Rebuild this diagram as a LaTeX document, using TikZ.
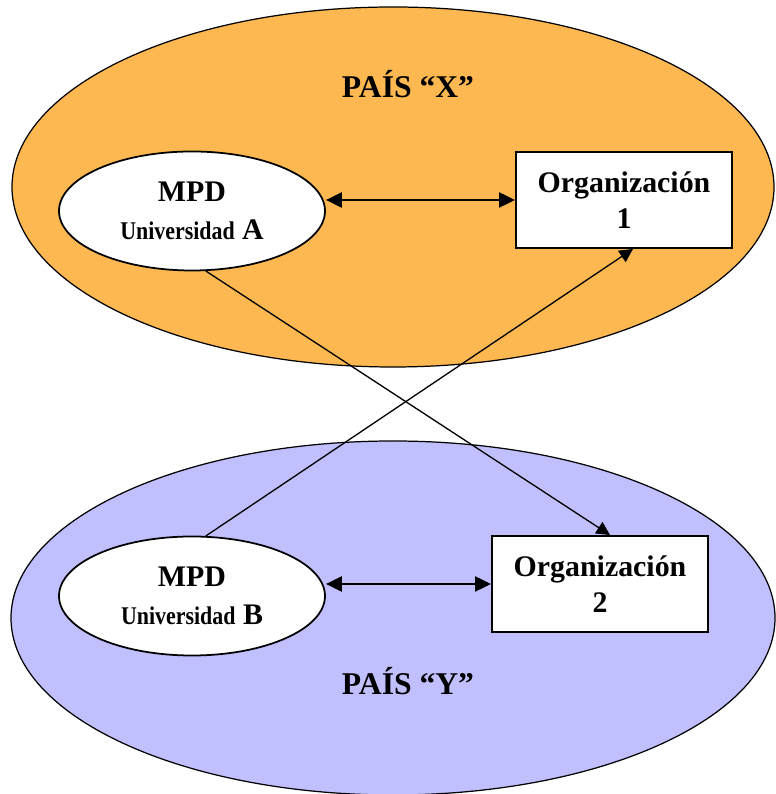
\documentclass[tikz,border=0pt]{standalone}
\usepackage{fontspec}
\setmainfont{Liberation Serif}
\usetikzlibrary{shapes,arrows.meta,positioning}
\definecolor{naranja}{RGB}{253,184,81}
\definecolor{lila}{RGB}{192,192,255}
\tikzstyle{mpd} = [ellipse,draw,line width=1pt,fill=white,inner sep=0pt,minimum width=5.32cm,minimum height=2.38cm,align=center,font=\bfseries\fontsize{17}{21.5}\selectfont]
\tikzstyle{org} = [rectangle,draw,line width=1.1pt,fill=white,minimum width=4.32cm,minimum height=1.92cm,align=center,font=\bfseries\fontsize{17}{20.5}\selectfont]
\tikzstyle{pais} = [anchor=base,font=\bfseries\fontsize{18}{21}\selectfont]
\tikzstyle{enlace} = [line width=0.75pt,-{Triangle[length=0.27cm,width=0.27cm]}]
\tikzstyle{doble} = [line width=1.3pt,<->]
\tikzset{>={Triangle[length=0.32cm,width=0.3cm]}}
\newcommand{\univ}{\scalebox{0.86}[1]{\fontsize{14.5}{15}\selectfont Universidad}}

\begin{document}
\begin{tikzpicture}
    \useasboundingbox (0,0) rectangle (15.5,15.88);
    \fill [white] (0,0) rectangle (15.5,15.88);
    \filldraw [fill=naranja,line width=0.7pt] (7.86,12.14) ellipse (7.62 and 3.6);
    \filldraw [fill=lila,line width=0.7pt] (7.86,3.52) ellipse (7.64 and 3.54);

    \node [pais] (paisX) at (8.16,13.92) {PAÍS “X”};
    \node [pais] (paisY) at (8.16,1.98) {PAÍS “Y”};

    \node [mpd] (mpdA) at (3.84,11.66) {MPD\\\univ{} A};
    \node [mpd] (mpdB) at (3.84,3.96) {MPD\\\univ{} B};
    \node [org] (org1) at (12.48,11.88) {Organización\\1};
    \node [org] (org2) at (12.0,4.2) {Organización\\2};

    \draw [doble] (org1.west) -- (org1.west -| mpdA.east);
    \draw [doble] (org2.west) -- (org2.west -| mpdB.east);
    \draw [enlace] (mpdA.-77) -- ([xshift=0.2cm]org2.north);
    \draw [enlace] (mpdB.77) -- ([xshift=0.18cm]org1.south);
\end{tikzpicture}
\end{document}
